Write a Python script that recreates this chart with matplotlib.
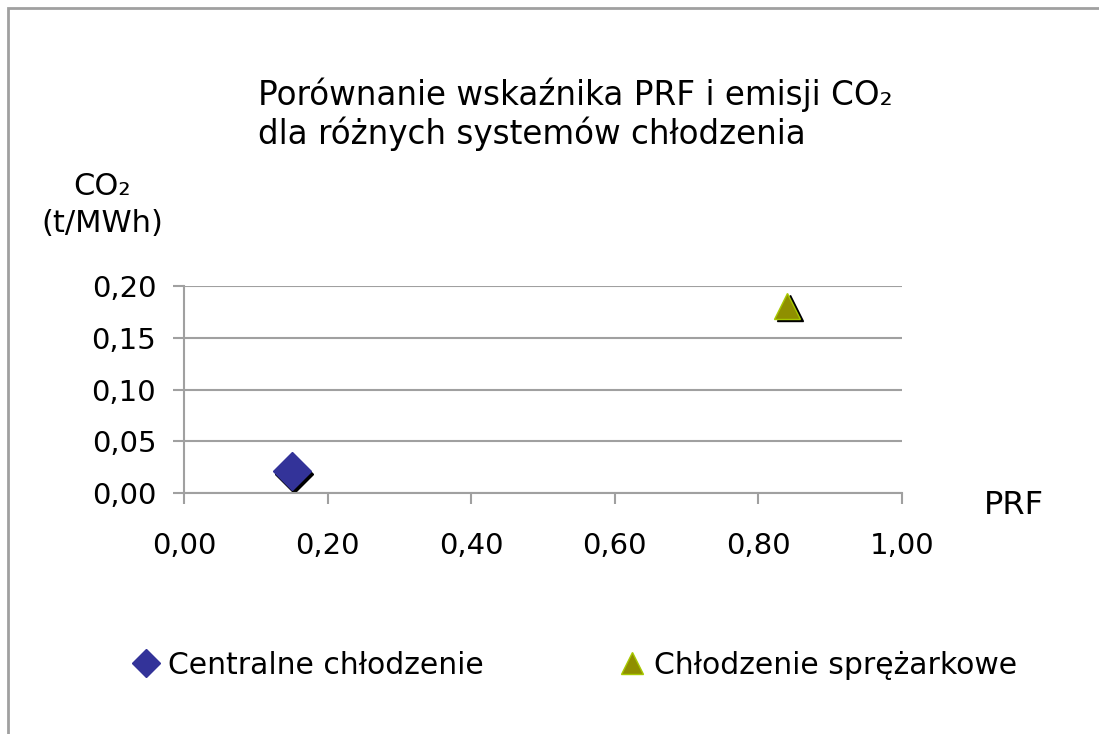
import matplotlib.pyplot as plt
import matplotlib.transforms as mtransforms
from matplotlib.patches import Rectangle
from matplotlib.lines import Line2D

# data
series = ['Centralne chłodzenie', 'Chłodzenie sprężarkowe']
prf = [0.15, 0.84]
co2 = [0.021, 0.181]
markers = ['D', '^']
fills = ['#333399', '#8f8f00']
edges = ['#333399', '#a8c800']
sizes = [19, 19]
xticks = [0.0, 0.2, 0.4, 0.6, 0.8, 1.0]
yticks = [0.0, 0.05, 0.10, 0.15, 0.20]

W, H = 1099, 734
fig = plt.figure(figsize=(W / 100, H / 100), dpi=100)
fig.patch.set_facecolor('white')

# outer chart border (only top and left edges visible)
fig.patches.append(Rectangle((8 / W, -0.1), 1.2, 1 - 8 / H + 0.1, transform=fig.transFigure,
                             fill=False, edgecolor='#a0a0a0', linewidth=2))

ax = fig.add_axes([184 / W, 1 - 493 / H, (902 - 184) / W, (493 - 286) / H])
ax.set_xlim(0, 1)
ax.set_ylim(0, 0.2)
for s in ['top', 'right']:
    ax.spines[s].set_visible(False)
for s in ['left', 'bottom']:
    ax.spines[s].set_color('#a0a0a0')
    ax.spines[s].set_linewidth(1.5)

ax.set_xticks(xticks)
ax.set_yticks(yticks)
ax.set_xticklabels([f'{v:.2f}'.replace('.', ',') for v in xticks])
ax.set_yticklabels([f'{v:.2f}'.replace('.', ',') for v in yticks])
ax.tick_params(axis='both', color='#a0a0a0', width=1.5, length=8, labelsize=21)
ax.tick_params(axis='x', pad=20)
ax.tick_params(axis='y', pad=12)
ax.yaxis.grid(True, color='#a0a0a0', linewidth=1.5)
ax.set_axisbelow(True)

shadow = mtransforms.offset_copy(ax.transData, fig=fig, x=2.5, y=-2.5, units='dots')
for i in range(len(series)):
    ax.plot(prf[i], co2[i], marker=markers[i], markersize=sizes[i], color='black',
            linestyle='none', transform=shadow, clip_on=False)
    ax.plot(prf[i], co2[i], marker=markers[i], markersize=sizes[i], markerfacecolor=fills[i],
            markeredgecolor=edges[i], markeredgewidth=1, linestyle='none', clip_on=False)

fig.text(258 / W, 1 - 114 / H, 'Porównanie wskaźnika PRF i emisji CO₂\ndla różnych systemów chłodzenia',
         fontsize=23.5, va='center', ha='left', linespacing=1.15)
fig.text(102 / W, 1 - 205 / H, 'CO₂\n(t/MWh)', fontsize=22, ha='center', va='center', linespacing=1.35)
fig.text(1014 / W, 1 - 505 / H, 'PRF', fontsize=23, ha='center', va='center')

handles = [Line2D([], [], marker=markers[i], linestyle='none', markersize=[14, 16][i],
                  markerfacecolor=fills[i], markeredgecolor=edges[i]) for i in range(len(series))]
fig.legend(handles, series, loc='center left', bbox_to_anchor=(104 / W, 1 - 665 / H), ncol=2,
           frameon=False, fontsize=21.5, handletextpad=0.25, columnspacing=4.45, handlelength=1.0)

fig.savefig('out.png', dpi=100)
